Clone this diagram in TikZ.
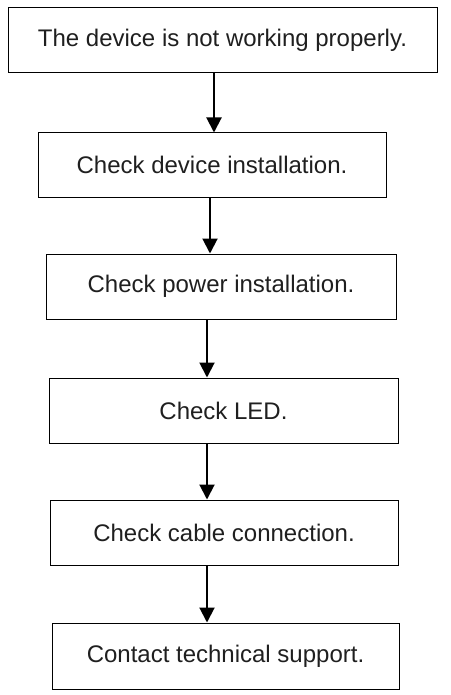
\documentclass[tikz,border=0pt]{standalone}
\usepackage{fontspec}
\setmainfont{Liberation Sans}
\usetikzlibrary{arrows.meta}

\begin{document}
\begin{tikzpicture}[x=1pt,y=-1pt,
  stepbox/.style={draw,line width=1pt,inner sep=0pt,text=black!88,font=\fontsize{24}{28}\selectfont},
  arr/.style={line width=2pt,-{Triangle[length=15pt,width=15pt]}}]
  \useasboundingbox (0,0) rectangle (450,695);
					\node[stepbox,minimum width=429pt,minimum height=65pt] (s0) at (222.5,40.5) {The device is not working properly.};
					\node[stepbox,minimum width=348pt,minimum height=64pt] (s1) at (212,165) {Check device installation.};
					\node[stepbox,minimum width=350pt,minimum height=65pt] (s2) at (221,286.5) {Check power installation.};
					\node[stepbox,minimum width=349pt,minimum height=65pt] (s3) at (223.5,410.5) {Check LED.};
					\node[stepbox,minimum width=348pt,minimum height=65pt] (s4) at (224,532.5) {Check cable connection.};
					\node[stepbox,minimum width=347pt,minimum height=66pt] (s5) at (225.5,656) {Contact technical support.};
					\draw[arr] ([xshift=-8.5pt]s0.south) -- ([xshift=-8.5pt]s0.south |- s1.north);
					\draw[arr] ([xshift=-2pt]s1.south) -- ([xshift=-2pt]s1.south |- s2.north);
					\draw[arr] ([xshift=-14pt]s2.south) -- ([xshift=-14pt]s2.south |- s3.north);
					\draw[arr] ([xshift=-16.5pt]s3.south) -- ([xshift=-16.5pt]s3.south |- s4.north);
					\draw[arr] ([xshift=-17pt]s4.south) -- ([xshift=-17pt]s4.south |- s5.north);
\end{tikzpicture}
\end{document}
